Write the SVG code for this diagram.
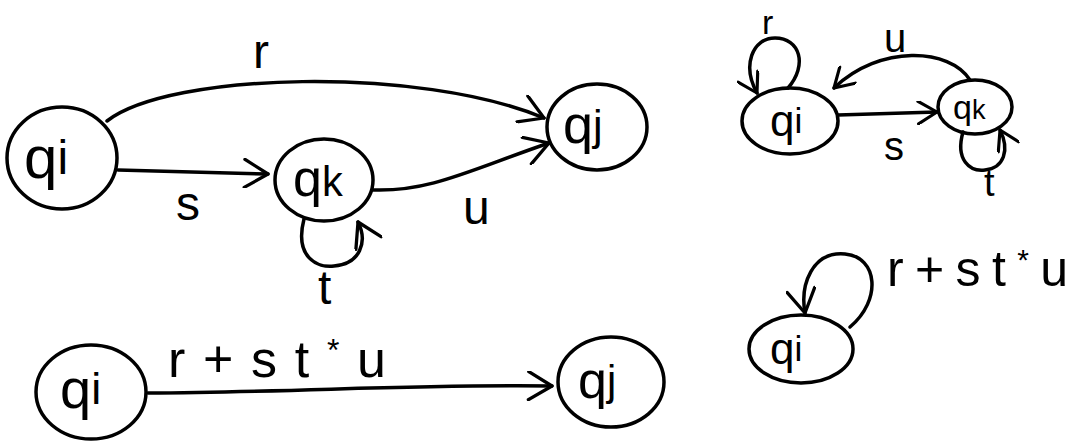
<svg xmlns="http://www.w3.org/2000/svg" width="1085" height="441" viewBox="0 0 1085 441">
  <style>
    .pen { fill: none; stroke: #000; stroke-width: 3.5; stroke-linecap: round; stroke-linejoin: round; }
    .lbl { font-family: "Liberation Sans", "DejaVu Sans", sans-serif; fill: #000; }
    .sub { font-size: 0.8em; }
  </style>
  <defs>
    <marker id="chev" viewBox="0 0 32 32" refX="29" refY="16" markerWidth="30" markerHeight="30" markerUnits="userSpaceOnUse" orient="auto">
      <path d="M4,1 L29,16 L4,31" fill="none" stroke="#000" stroke-width="3.5" stroke-linecap="round" stroke-linejoin="round"/>
    </marker>
    <marker id="chev-s" viewBox="0 0 32 32" refX="29" refY="16" markerWidth="24" markerHeight="24" markerUnits="userSpaceOnUse" orient="auto">
      <path d="M4,1 L29,16 L4,31" fill="none" stroke="#000" stroke-width="4.2" stroke-linecap="round" stroke-linejoin="round"/>
    </marker>
  </defs>
  <rect width="1085" height="441" fill="#fff"/>

  <!-- full automaton with intermediate state qk -->
  <g id="a-qi">
    <ellipse class="pen" cx="62" cy="158" rx="55" ry="51"/>
    <text class="lbl" x="24" y="178" font-size="60">q<tspan class="sub" dy="-4">i</tspan></text>
  </g>
  <g id="a-qk">
    <ellipse class="pen" cx="324" cy="180" rx="49" ry="41"/>
    <text class="lbl" x="293" y="196" font-size="52">q<tspan class="sub" font-size="34">k</tspan></text>
  </g>
  <g id="a-qj">
    <ellipse class="pen" cx="597" cy="127" rx="50" ry="43"/>
    <text class="lbl" x="563" y="143" font-size="54">q<tspan class="sub" dy="-3">j</tspan></text>
  </g>

  <!-- two-state form: qi and qk -->
  <g id="b-qi">
    <ellipse class="pen" cx="790" cy="121" rx="48" ry="33"/>
    <text class="lbl" x="770" y="136" font-size="44">q<tspan class="sub" dy="-3">i</tspan></text>
  </g>
  <g id="b-qk">
    <ellipse class="pen" cx="975" cy="107" rx="37" ry="27"/>
    <text class="lbl" x="953" y="119" font-size="34">q<tspan class="sub" font-size="24">k</tspan></text>
  </g>

  <!-- reduced form: qi to qj -->
  <g id="c-qi">
    <ellipse class="pen" cx="91" cy="392" rx="55" ry="47"/>
    <text class="lbl" x="60" y="408" font-size="56">q<tspan class="sub" dy="-4">i</tspan></text>
  </g>
  <g id="c-qj">
    <ellipse class="pen" cx="611" cy="382" rx="53" ry="45"/>
    <text class="lbl" x="578" y="398" font-size="52">q<tspan class="sub" dy="-3">j</tspan></text>
  </g>

  <!-- reduced form: single state qi -->
  <g id="d-qi">
    <ellipse class="pen" cx="801" cy="349" rx="52" ry="34"/>
    <text class="lbl" x="770" y="364" font-size="44">q<tspan class="sub" dy="-3">i</tspan></text>
  </g>

  <g id="connectors">
    <!-- qi -> qj, r -->
    <path class="pen" d="M107,121 C170,72 420,66 544,118" marker-end="url(#chev)"/>
    <!-- qi -> qk, s -->
    <path class="pen" d="M118,170 L268,174" marker-end="url(#chev)"/>
    <!-- qk -> qj, u -->
    <path class="pen" d="M373,190 C430,192 470,170 549,143" marker-end="url(#chev)"/>
    <!-- qk loop, t -->
    <path class="pen" d="M304,219 C294,258 318,268 334,266 C360,264 368,242 358,222" marker-end="url(#chev)"/>

    <!-- qi loop, r -->
    <path class="pen" d="M788,88 C808,65 800,38 775,38 C752,38 742,66 757,93" marker-end="url(#chev-s)"/>
    <!-- qk -> qi, u -->
    <path class="pen" d="M970,80 C950,48 880,44 834,88" marker-end="url(#chev-s)"/>
    <!-- qi -> qk, s -->
    <path class="pen" d="M838,115 L937,112" marker-end="url(#chev-s)"/>
    <!-- qk loop, t -->
    <path class="pen" d="M963,132 C955,160 970,172 985,170 C1004,168 1010,150 1000,130" marker-end="url(#chev-s)"/>

    <!-- qi -> qj, r+st*u -->
    <path class="pen" d="M148,393 C300,392 420,384 552,386" marker-end="url(#chev)"/>
    <!-- qi loop, r+st*u -->
    <path class="pen" d="M850,327 C882,300 878,257 845,254 C812,251 800,285 805,313" marker-end="url(#chev)"/>
  </g>

  <g id="labels">
    <text class="lbl" x="253" y="68" font-size="48">r</text>
    <text class="lbl" x="176" y="220" font-size="48">s</text>
    <text class="lbl" x="463" y="224" font-size="48">u</text>
    <text class="lbl" x="318" y="304" font-size="48">t</text>

    <text class="lbl" x="762" y="34" font-size="34">r</text>
    <text class="lbl" x="884" y="52" font-size="40">u</text>
    <text class="lbl" x="884" y="160" font-size="40">s</text>
    <text class="lbl" x="984" y="196" font-size="38">t</text>

    <text class="lbl" x="168" y="377" font-size="52" textLength="218" lengthAdjust="spacing">r+st<tspan font-size="32" dy="-16">*</tspan><tspan dy="16">u</tspan></text>
    <text class="lbl" x="887" y="286" font-size="50" textLength="181" lengthAdjust="spacing">r+st<tspan font-size="30" dy="-16">*</tspan><tspan dy="16">u</tspan></text>
  </g>
</svg>
